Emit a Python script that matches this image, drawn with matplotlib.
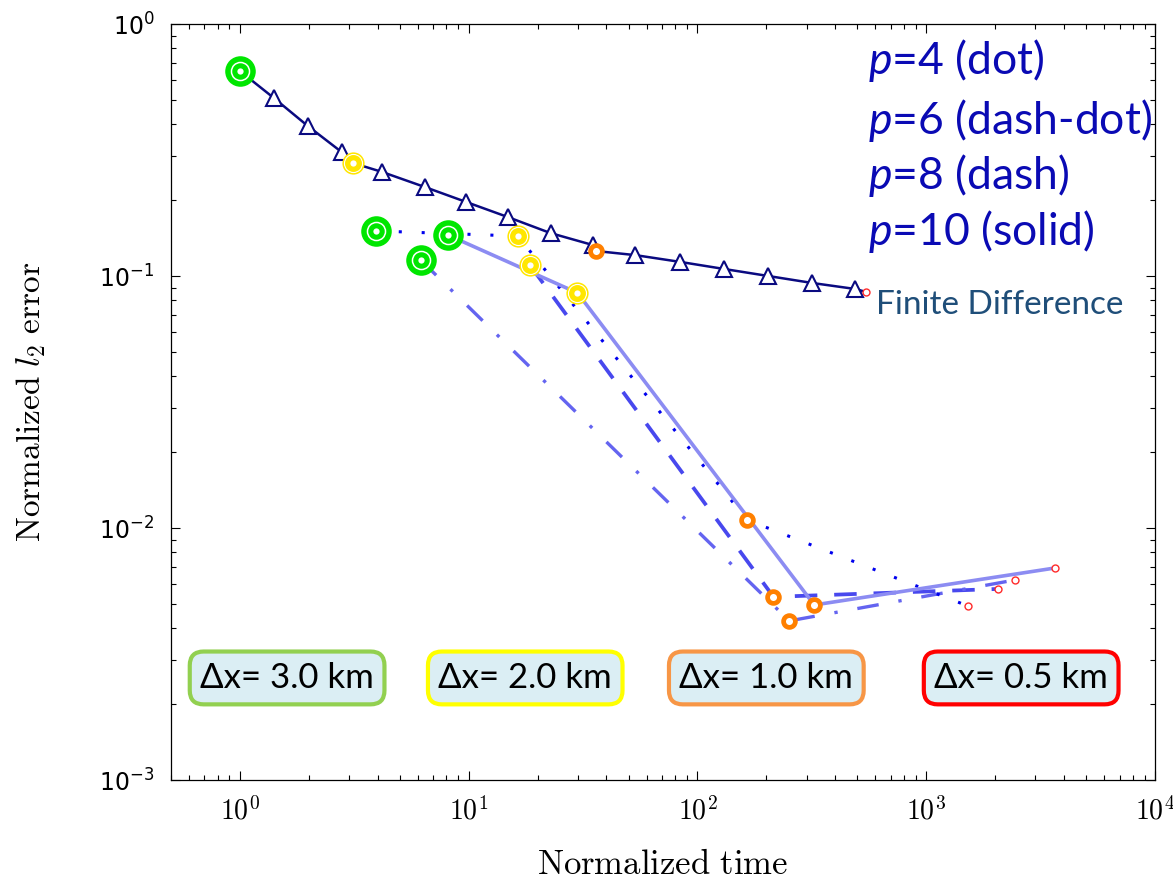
"""
Normalized l2 error vs normalized time: finite difference vs. high-order (p) schemes,
with grid-spacing markers (3.0 / 2.0 / 1.0 / 0.5 km).
"""
import math

import matplotlib
matplotlib.use('Agg')
import matplotlib.pyplot as plt
from matplotlib.ticker import LogLocator, FuncFormatter, NullFormatter

plt.rcParams['mathtext.fontset'] = 'cm'
# used by texts that ask for math_fontfamily='custom' (italic p in the legend)
plt.rcParams['mathtext.it'] = 'Lato:italic'
plt.rcParams['mathtext.rm'] = 'Lato'

# ── data ─────────────────────────────────────────────────────────────────────
# finite difference curve; dx marks which points carry a grid-spacing circle
fd_time = [1.0, 1.41, 1.98, 2.79, 3.11, 4.17, 6.43, 9.7, 14.8, 22.8,
           34.8, 36.2, 53.6, 84.3, 131, 204, 318, 490, 547]
fd_err = [0.651, 0.508, 0.394, 0.310, 0.281, 0.259, 0.2255, 0.197, 0.1715, 0.148,
          0.1328, 0.1256, 0.121, 0.1137, 0.1066, 0.100, 0.0938, 0.0888, 0.0864]
fd_dx = [3.0, None, None, None, 2.0, None, None, None, None, None,
         None, 1.0, None, None, None, None, None, None, 0.5]

p4_time = [3.93, 16.4, 165, 1525]
p4_err = [0.151, 0.144, 0.01076, 0.0049]
p4_dx = [3.0, 2.0, 1.0, 0.5]

p6_time = [6.17, 252, 2447]
p6_err = [0.1157, 0.00428, 0.00622]
p6_dx = [3.0, 1.0, 0.5]

p8_time = [18.5, 215, 2063]
p8_err = [0.1106, 0.00533, 0.00573]
p8_dx = [2.0, 1.0, 0.5]

p10_time = [8.1, 29.9, 324, 3660]
p10_err = [0.1455, 0.0857, 0.00495, 0.00694]
p10_dx = [3.0, 2.0, 1.0, 0.5]

legend_lines = ['4 (dot)', '6 (dash-dot)', '8 (dash)', '10 (solid)']
dx_labels = ['Δx= 3.0 km', 'Δx= 2.0 km', 'Δx= 1.0 km', 'Δx= 0.5 km']
dx_values = [3.0, 2.0, 1.0, 0.5]

# ── styles ───────────────────────────────────────────────────────────────────
NAVY = '#0a0a80'
DX_EDGE = {3.0: '#92d050', 2.0: '#ffff00', 1.0: '#f79646', 0.5: '#ff0000'}
BOX_FACE = '#dbeef4'
TXT_BLUE = '#0a0ab4'


def draw_dx_markers(ax, t, e, dx):
    """Overlay the resolution circles (green/yellow/orange/red) on a curve."""
    for ti, ei, d in zip(t, e, dx):
        if d == 3.0:
            ax.plot(ti, ei, 'o', ms=22, mfc='#00e600', mec='none', zorder=6)
            ax.plot(ti, ei, 'o', ms=13, mfc='#00e600', mec='white', mew=1.1, zorder=7)
            ax.plot(ti, ei, 'o', ms=4.5, mfc='white', mec='none', zorder=8)
        elif d == 2.0:
            ax.plot(ti, ei, 'o', ms=16, mfc='#ffe600', mec='none', zorder=6)
            ax.plot(ti, ei, 'o', ms=13, mfc='#ffe600', mec='white', mew=0.8, zorder=7)
            ax.plot(ti, ei, 'o', ms=4.5, mfc='white', mec='none', zorder=8)
        elif d == 1.0:
            ax.plot(ti, ei, 'o', ms=8.5, mfc='white', mec='#ff8000', mew=3.4, zorder=6)
        elif d == 0.5:
            ax.plot(ti, ei, 'o', ms=5, mfc='white', mec='#ff2a2a', mew=1.0, zorder=6)


fig = plt.figure(figsize=(11.73, 8.81), dpi=100)
ax = fig.add_axes([171 / 1173, 1 - 780 / 881, 984 / 1173, 756 / 881])

# p-scheme curves
ax.plot(p10_time, p10_err, '-', color='#8c8cf2', lw=2.6, zorder=3)
ax.plot(p8_time, p8_err, color='#4848ee', lw=2.7, ls=(0, (6, 4.5)), zorder=2)
ax.plot(p6_time, p6_err, color='#6464f0', lw=2.4, ls=(0, (6.5, 6, 1, 6)), zorder=2)
ax.plot(p4_time, p4_err, color='#0000ee', lw=2.2, ls=(0, (1, 6.5)), zorder=2)

# finite difference curve with hollow triangles at the non-circled points
tri_idx = [i for i, d in enumerate(fd_dx) if d is None]
ax.plot(fd_time, fd_err, '-', color=NAVY, lw=1.8, marker='^', markevery=tri_idx,
        ms=11, mfc='white', mec=NAVY, mew=1.5, zorder=4)

for t, e, d in [(fd_time, fd_err, fd_dx), (p4_time, p4_err, p4_dx),
                (p6_time, p6_err, p6_dx), (p8_time, p8_err, p8_dx),
                (p10_time, p10_err, p10_dx)]:
    draw_dx_markers(ax, t, e, d)

ax.set_xscale('log')
ax.set_yscale('log')
ax.set_xlim(0.5, 1e4)
ax.set_ylim(1e-3, 1e0)

ax.xaxis.set_major_locator(LogLocator(base=10))
ax.xaxis.set_minor_locator(LogLocator(base=10, subs=range(2, 10)))
ax.yaxis.set_minor_locator(LogLocator(base=10, subs=range(2, 10)))
ax.xaxis.set_minor_formatter(NullFormatter())
ax.yaxis.set_minor_formatter(NullFormatter())
ax.xaxis.set_major_formatter(FuncFormatter(lambda v, _: r'$10^{%d}$' % round(math.log10(v))))

# y labels are sans in the reference
yt = [1e-3, 1e-2, 1e-1, 1e0]
ax.set_yticks(yt)
ax.set_yticklabels([r'$10^{%d}$' % round(math.log10(v)) for v in yt],
                   math_fontfamily='dejavusans', fontsize=17)

ax.tick_params(which='both', direction='in', top=True, right=True, width=0.8)
ax.tick_params(which='major', length=6.5)
ax.tick_params(which='minor', length=3.6)
ax.tick_params(axis='x', labelsize=20, pad=12)
ax.tick_params(axis='y', pad=12)
for s in ax.spines.values():
    s.set_linewidth(0.9)

ax.set_xlabel(r'$\mathrm{Normalized\ time}$', fontsize=25)
ax.set_ylabel(r'$\mathrm{Normalized}\ l_2\ \mathrm{error}$', fontsize=24)
ax.xaxis.set_label_coords(0.5, -0.088)
ax.yaxis.set_label_coords(-0.125, 0.5)

# legend text (top right)
for s, yf in zip(legend_lines, [0.952, 0.873, 0.799, 0.726]):
    ax.text(0.708, yf, r'$p$=' + s, transform=ax.transAxes, math_fontfamily='custom',
            fontsize=32, color=TXT_BLUE, family='Lato', va='center', ha='left')
ax.text(0.7165, 0.628, 'Finite Difference', transform=ax.transAxes,
        fontsize=24, color='#1f4e79', family='Lato', va='center', ha='left')

# grid spacing boxes
for s, d, xf in zip(dx_labels, dx_values, [0.118, 0.36, 0.605, 0.864]):
    ax.text(xf, 0.135, s, transform=ax.transAxes, fontsize=25, family='Lato',
            color='black', ha='center', va='center', zorder=9,
            bbox=dict(boxstyle='round,pad=0.3,rounding_size=0.4',
                      fc=BOX_FACE, ec=DX_EDGE[d], lw=3))

fig.savefig('out.png', dpi=100)
